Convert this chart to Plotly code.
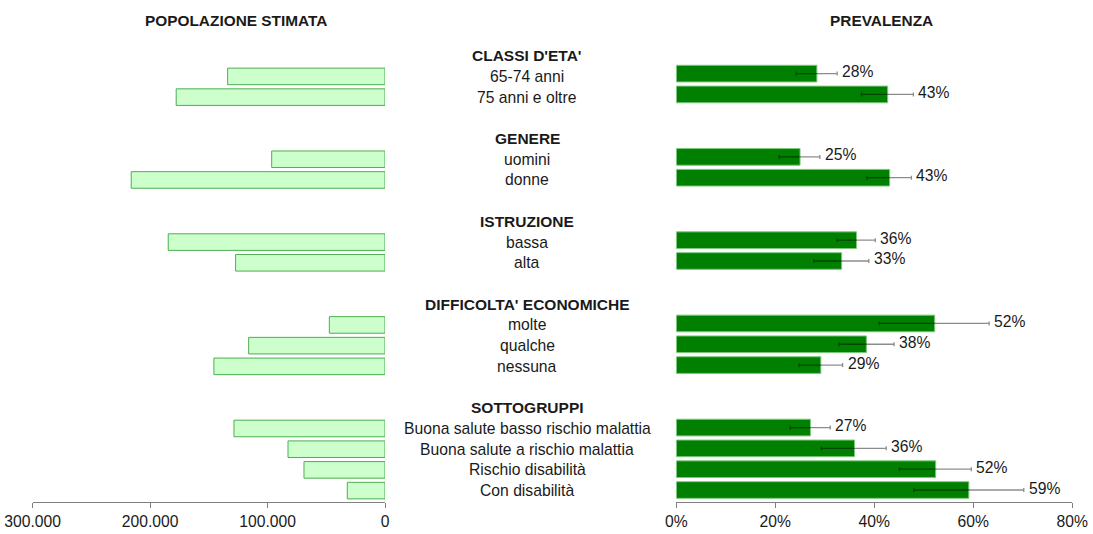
import plotly.graph_objects as go

# ---- data ----
groups = ["CLASSI D'ETA'", "GENERE", "ISTRUZIONE", "DIFFICOLTA' ECONOMICHE", "SOTTOGRUPPI"]
group_sizes = [2, 2, 2, 3, 4]
categories = [
    "65-74 anni", "75 anni e oltre",
    "uomini", "donne",
    "bassa", "alta",
    "molte", "qualche", "nessuna",
    "Buona salute basso rischio malattia", "Buona salute a rischio malattia",
    "Rischio disabilità", "Con disabilità",
]
population = [134000, 177800, 96500, 216100, 184600, 127200, 47400, 116100,
              145700, 128600, 82600, 69000, 32100]
prevalence = [28.4, 42.7, 25.0, 43.1, 36.4, 33.4, 52.2, 38.4, 29.2, 27.1, 36.0, 52.4, 59.1]
ci_low = [24.2, 37.4, 20.8, 38.5, 32.5, 27.8, 41.0, 32.9, 24.8, 23.0, 29.3, 45.1, 48.0]
ci_high = [32.5, 47.9, 29.0, 47.5, 40.2, 38.9, 63.2, 44.0, 33.6, 31.1, 42.4, 59.6, 70.2]

pop_ticks = [300000, 200000, 100000, 0]
pop_ticktext = ["300.000", "200.000", "100.000", "0"]
prev_ticks = [0, 20, 40, 60, 80]
prev_ticktext = ["0%", "20%", "40%", "60%", "80%"]

FONT = "Liberation Sans, Arial, sans-serif"
TXT = "#1a1a1a"

# row positions: header row, its items, then one blank row
header_pos = []
item_pos = []
slot = -1
for size in group_sizes:
    header_pos.append(slot)
    slot += 1
    for _ in range(size):
        item_pos.append(slot)
        slot += 1
    slot += 1

W = 1093
H = 534


def px(x):
    return x / W


fig = go.Figure()

fig.add_trace(go.Bar(
    x=population, y=item_pos, orientation="h", width=0.8,
    marker=dict(color="#ccffcc", line=dict(color="#4caf50", width=1)),
    xaxis="x", yaxis="y", hoverinfo="skip",
))

fig.add_trace(go.Bar(
    x=prevalence, y=item_pos, orientation="h", width=0.8,
    marker=dict(color="#007f00", line=dict(color="#7cc87c", width=1)),
    error_x=dict(
        type="data", symmetric=False,
        array=[h - p for h, p in zip(ci_high, prevalence)],
        arrayminus=[p - l for p, l in zip(prevalence, ci_low)],
        color="rgba(0,0,0,0.45)", thickness=1.3, width=2,
    ),
    xaxis="x2", yaxis="y2", hoverinfo="skip",
))

annotations = []
for name, pos in zip(groups, header_pos):
    annotations.append(dict(
        text=f"<b>{name}</b>", x=px(527), xref="paper", y=pos, yref="y",
        showarrow=False, xanchor="center", yanchor="middle",
        font=dict(size=15.5, color=TXT, family=FONT),
    ))
for name, pos in zip(categories, item_pos):
    annotations.append(dict(
        text=name, x=px(527), xref="paper", y=pos, yref="y",
        showarrow=False, xanchor="center", yanchor="middle",
        font=dict(size=15.7, color=TXT, family=FONT),
    ))
for p, h, pos in zip(prevalence, ci_high, item_pos):
    annotations.append(dict(
        text=f"{round(p)}%", x=h, xref="x2", y=pos, yref="y2",
        showarrow=False, xanchor="left", yanchor="middle", xshift=3, yshift=2,
        font=dict(size=15.7, color=TXT, family=FONT),
    ))
annotations.append(dict(
    text="<b>POPOLAZIONE STIMATA</b>", x=px(236), xref="paper", y=1.032, yref="paper",
    showarrow=False, xanchor="center", yanchor="middle",
    font=dict(size=15.4, color=TXT, family=FONT),
))
annotations.append(dict(
    text="<b>PREVALENZA</b>", x=px(881), xref="paper", y=1.032, yref="paper",
    showarrow=False, xanchor="center", yanchor="middle",
    font=dict(size=15.4, color=TXT, family=FONT),
))

axis_common = dict(
    showgrid=False, zeroline=False, showline=True, linecolor="#808080", linewidth=1,
    ticks="outside", ticklen=5, tickcolor="#808080", automargin=False,
    ticklabeloverflow="allow",
    tickfont=dict(size=15.7, color=TXT, family=FONT),
)

fig.update_layout(
    width=W, height=H,
    margin=dict(l=0, r=0, t=35.4, b=32.3, autoexpand=False),
    paper_bgcolor="white", plot_bgcolor="white",
    showlegend=False,
    annotations=annotations,
    xaxis=dict(domain=[px(32.7), px(385)], range=[300000, 0], anchor="y",
               tickvals=pop_ticks, ticktext=pop_ticktext, **axis_common),
    yaxis=dict(domain=[0, 1], range=[20.55, -2], anchor="x", visible=False, automargin=False),
    xaxis2=dict(domain=[px(676.3), px(1072.3)], range=[0, 80], anchor="y2",
                tickvals=prev_ticks, ticktext=prev_ticktext, **axis_common),
    yaxis2=dict(domain=[0, 1], range=[20.576, -1.855], anchor="x2", visible=False, automargin=False),
    # faint stray ticks under the centre labels
    xaxis3=dict(domain=[px(441.7), px(603.3)], range=[0, 3], anchor="free", position=0.0144,
                tickvals=[0, 1, 2, 3], showticklabels=False, showline=False, showgrid=False,
                zeroline=False, ticks="outside", ticklen=4, tickcolor="#dddddd", automargin=False),
)

# drop the default 8px page margin so the figure fills the window exactly
fig.write_html("out.html", config={"displayModeBar": False},
               post_script="document.body.style.margin='0';")
